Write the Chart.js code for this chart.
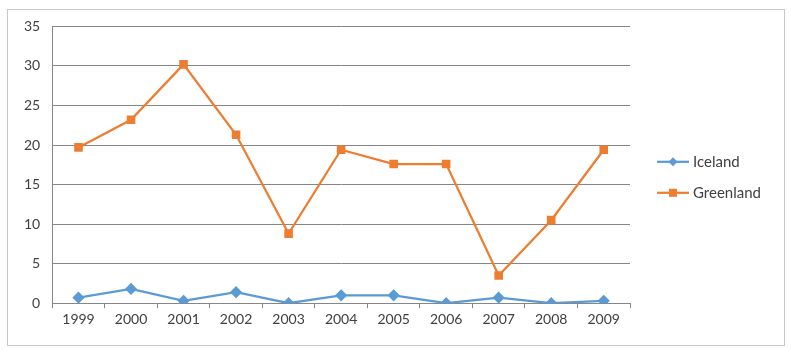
<!DOCTYPE html>
<html lang="en">
<head>
    <meta charset="UTF-8">
    <title>Iceland vs Greenland</title>
    <script src="https://cdn.jsdelivr.net/npm/chart.js"></script>
    <style>
        body { margin: 0; background: #fff; }
        .frame {
            position: absolute; left: 7px; top: 9px;
            width: 776px; height: 335px;
            border: 1px solid #c8c8c8;
        }
        #chart { position: absolute; left: 0; top: -4px; }
    </style>
</head>
<body>
    <div class="frame">
        <canvas id="chart" width="776" height="339"></canvas>
    </div>
    <script>
const years = ['1999','2000','2001','2002','2003','2004','2005','2006','2007','2008','2009'];
const iceland = [0.7, 1.8, 0.3, 1.4, 0, 1.0, 1.0, 0, 0.7, 0, 0.3];
const greenland = [19.7, 23.2, 30.2, 21.3, 8.8, 19.4, 17.6, 17.6, 3.5, 10.5, 19.4];
const yTicks = [0, 5, 10, 15, 20, 25, 30, 35];

const blue = '#5b9bd5';
const orange = '#ed7d31';
const font = "Lato, 'Open Sans', sans-serif";

// Excel style legend on the right: line with marker, then the name
const sideLegend = {
    id: 'sideLegend',
    afterDraw(chart) {
        const ctx = chart.ctx;
        const x0 = chart.chartArea.right + 27;
        const yMid = (chart.chartArea.top + chart.chartArea.bottom) / 2;
        ctx.save();
        ctx.font = '15px ' + font;
        ctx.textBaseline = 'middle';
        chart.data.datasets.forEach((ds, i) => {
            const y = yMid - 3 + i * 31;
            ctx.strokeStyle = ds.borderColor;
            ctx.lineWidth = 2.25;
            ctx.beginPath(); ctx.moveTo(x0, y); ctx.lineTo(x0 + 32, y); ctx.stroke();
            ctx.fillStyle = ds.borderColor;
            const cx = x0 + 16;
            if (ds.pointStyle === 'rectRot') {
                ctx.beginPath();
                ctx.moveTo(cx, y - 4.5); ctx.lineTo(cx + 4.5, y); ctx.lineTo(cx, y + 4.5); ctx.lineTo(cx - 4.5, y);
                ctx.closePath(); ctx.fill();
            } else {
                ctx.fillRect(cx - 4, y - 4, 8, 8);
            }
            ctx.fillStyle = '#404040';
            ctx.fillText(ds.label, x0 + 36, y);
        });
        ctx.restore();
    }
};

new Chart(document.getElementById('chart').getContext('2d'), {
    type: 'line',
    data: {
        labels: years,
        datasets: [{
            label: 'Iceland',
            data: iceland,
            borderColor: blue,
            backgroundColor: blue,
            borderWidth: 2.25,
            pointStyle: 'rectRot',
            pointRadius: 4.5,
            tension: 0
        }, {
            label: 'Greenland',
            data: greenland,
            borderColor: orange,
            backgroundColor: orange,
            borderWidth: 2.25,
            pointStyle: 'rect',
            pointRadius: 4.5,
            tension: 0
        }]
    },
    options: {
        responsive: false,
        animation: false,
        layout: { padding: { left: 4, top: 5, right: 154, bottom: 14 } },
        plugins: {
            tooltip: { enabled: false },
            legend: { display: false }
        },
        scales: {
            x: {
                offset: true,
                grid: {
                    offset: true,
                    drawOnChartArea: false,
                    drawTicks: true,
                    tickLength: 5,
                    color: '#868686'
                },
                border: { color: '#868686' },
                ticks: { color: '#404040', font: { family: font, size: 14 }, padding: 3, maxRotation: 0 }
            },
            y: {
                min: 0,
                max: 35,
                afterBuildTicks: axis => { axis.ticks = yTicks.map(v => ({ value: v })); },
                grid: { color: '#868686', drawTicks: false },
                border: { color: '#868686' },
                ticks: { color: '#404040', font: { family: font, size: 14 }, padding: 12 }
            }
        }
    },
    plugins: [sideLegend]
});
    </script>
</body>
</html>
